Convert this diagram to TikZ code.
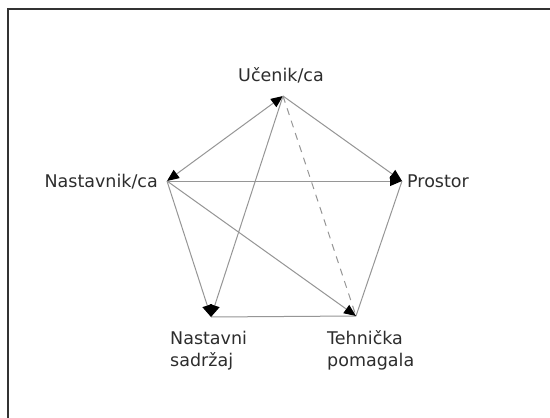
\documentclass[tikz,border=0pt]{standalone}
\usepackage{fontspec}
\setmainfont{DejaVu Sans}
\usetikzlibrary{arrows.meta}
\definecolor{edgegray}{RGB}{150,150,150}
\definecolor{textgray}{RGB}{45,45,45}
\tikzset{
  blacktip/.tip={Triangle[length=12pt,width=10pt,color=black,fill=black]},
  edge/.style={draw=edgegray, line width=1pt},
  tipped/.style={edge, -blacktip},
  both/.style={edge, blacktip-blacktip},
  lbl/.style={text=textgray, inner sep=0pt, font=\fontsize{17.5}{22}\selectfont},
  frameline/.style={draw=black!80, line width=1.5pt}
}
\begin{document}
\begin{tikzpicture}[x=1pt,y=-1pt]
\useasboundingbox (0,0) rectangle (550,418);
\fill[white] (0,0) rectangle (550,418);
\coordinate (fa) at (8,418);
\coordinate (fb) at (8,9);
\coordinate (fc) at (550,9);
\draw[frameline] (fa) -- (fb) -- (fc);

\coordinate (U) at (283,96);
\coordinate (N) at (167,181);
\coordinate (P) at (402,181);
\coordinate (S) at (211,317);
\coordinate (T) at (356,316);

\draw[edge] (S) -- (T);
\draw[edge] (P) -- (T);
\draw[edge, dashed, dash pattern=on 7pt off 6pt] (U) -- (T);
\draw[both] (N) -- (U);
\draw[tipped] (U) -- (P);
\draw[tipped] (N) -- (P);
\draw[tipped] (N) -- (S);
\draw[tipped] (U) -- (S);
\draw[tipped] (N) -- (T);

\node[lbl] (lu) at (281,75) {Učenik/ca};
\node[lbl, anchor=east] (ln) at (158,182) {Nastavnik/ca};
\node[lbl, anchor=west] (lp) at (407,181) {Prostor};
\node[lbl, anchor=north west, align=left] (ls) at (170,331) {Nastavni\\sadržaj};
\node[lbl, anchor=north west, align=left] (lt) at (327,330) {Tehnička\\pomagala};
\end{tikzpicture}
\end{document}
